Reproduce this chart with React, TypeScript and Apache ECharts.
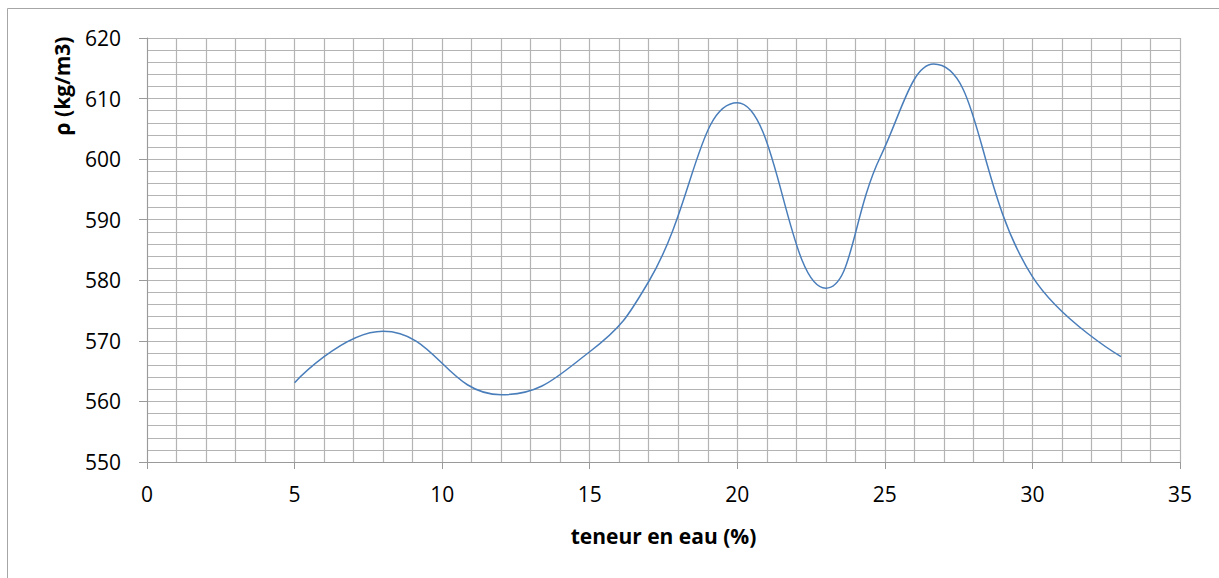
import React, { useEffect, useRef } from "react";
import * as echarts from "echarts";

const teneur: number[] = [5, 8, 12, 15, 17, 20, 23, 24.85, 26.65, 30, 33];
const rho: number[] = [563.1, 571.6, 561.1, 568.2, 579.8, 609.3, 578.7, 600.4, 615.7, 580.6, 567.4];
const xTitle = "teneur en eau (%)";
const yTitle = "ρ (kg/m3)";

const FONT = "'Open Sans', 'Noto Sans', sans-serif";
const GRID = "#b4b4b4";
const AXIS = "#9a9a9a";

export default function App() {
  const ref = useRef<HTMLDivElement>(null);
  useEffect(() => {
    if (!ref.current) return;
    const chart = echarts.init(ref.current, undefined, { renderer: "svg" });
    const data = teneur.map((x, i) => [x, rho[i]]);
    chart.setOption({
      animation: false,
      backgroundColor: "#ffffff",
      grid: { left: 147, right: 39, top: 38, bottom: 116, containLabel: false },
      xAxis: {
        type: "value",
        min: 0,
        max: 35,
        interval: 5,
        name: xTitle,
        nameLocation: "middle",
        nameGap: 63,
        nameTextStyle: { fontFamily: FONT, fontSize: 21, fontWeight: "bold", color: "#000" },
        axisLine: { show: true, lineStyle: { color: AXIS, width: 1 } },
        axisTick: { show: true, length: 7, lineStyle: { color: AXIS } },
        axisLabel: { margin: 21, fontFamily: FONT, fontSize: 21, color: "#000" },
        splitLine: { show: true, lineStyle: { color: GRID, width: 1.2 } },
        minorTick: { show: false, splitNumber: 5 },
        minorSplitLine: { show: true, lineStyle: { color: GRID, width: 1.2 } },
      },
      yAxis: {
        type: "value",
        min: 550,
        max: 620,
        interval: 10,
        axisLine: { show: true, lineStyle: { color: AXIS, width: 1 } },
        axisTick: { show: true, length: 8, lineStyle: { color: AXIS } },
        axisLabel: { margin: 26, fontFamily: FONT, fontSize: 21, color: "#000" },
        splitLine: { show: true, lineStyle: { color: GRID, width: 1.2 } },
        minorTick: { show: false, splitNumber: 5 },
        minorSplitLine: { show: true, lineStyle: { color: GRID, width: 1.2 } },
      },
      graphic: [
        {
          type: "rect",
          silent: true,
          shape: { x: 7.5, y: 8.5, width: 1230, height: 590 },
          style: { fill: "none", stroke: "#a6a6a6", lineWidth: 1 },
          z: -10,
        },
        {
          type: "text",
          x: 62,
          y: 86,
          rotation: Math.PI / 2,
          style: {
            text: yTitle,
            fontFamily: FONT,
            fontSize: 21,
            fontWeight: "bold",
            fill: "#000",
            textAlign: "center",
            textVerticalAlign: "middle",
          },
        },
      ],
      series: [
        {
          type: "line",
          data,
          smooth: 0.45,
          showSymbol: false,
          symbol: "none",
          lineStyle: { color: "#4a7ebb", width: 1.5 },
        },
      ],
    });
    return () => chart.dispose();
  }, []);
  return (
    <div
      ref={ref}
      style={{ position: "fixed", left: 0, top: 0, width: 1219, height: 578, background: "#fff" }}
    />
  );
}
